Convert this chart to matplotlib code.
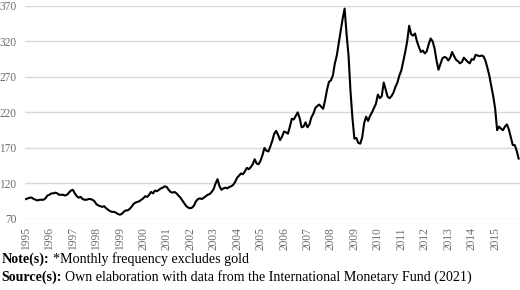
import numpy as np
import matplotlib.pyplot as plt

# ── Data: monthly commodity price index, Jan 1995 – Jan 2016 ──────────────────
y1995 = [98, 99, 100, 100, 98, 97, 96, 97, 97, 97, 99, 103]
y1996 = [104, 106, 106, 107, 106, 104, 104, 104, 103, 104, 107, 110]
y1997 = [111, 106, 102, 100, 101, 98, 97, 97, 98, 98, 97, 95]
y1998 = [91, 89, 88, 87, 88, 85, 83, 81, 80, 80, 79, 77]
y1999 = [76, 77, 80, 82, 82, 84, 87, 91, 93, 94, 95, 97]
y2000 = [99, 102, 101, 104, 108, 106, 110, 109, 111, 113, 114, 116]
y2001 = [115, 111, 108, 107, 108, 106, 103, 100, 96, 92, 88, 86]
y2002 = [85, 86, 89, 95, 98, 99, 98, 100, 102, 104, 105, 108]
y2003 = [112, 120, 126, 116, 111, 113, 114, 113, 115, 116, 118, 122]
y2004 = [128, 131, 134, 133, 137, 142, 140, 143, 147, 154, 148, 147]
y2005 = [152, 160, 170, 166, 165, 172, 180, 190, 194, 188, 181, 186]
y2006 = [193, 192, 190, 200, 211, 210, 215, 220, 212, 199, 200, 206]
y2007 = [199, 203, 213, 218, 226, 229, 231, 228, 225, 237, 252, 263]
y2008 = [265, 272, 289, 300, 318, 335, 352, 366, 330, 300, 250, 212]
y2009 = [183, 184, 177, 176, 185, 205, 214, 208, 215, 220, 226, 232]
y2010 = [245, 240, 243, 262, 252, 242, 240, 243, 248, 256, 262, 272]
y2011 = [279, 292, 305, 320, 342, 330, 328, 331, 320, 312, 305, 307]
y2012 = [303, 306, 316, 324, 320, 310, 293, 280, 288, 296, 298, 297]
y2013 = [293, 297, 305, 299, 294, 292, 289, 291, 297, 294, 291, 289]
y2014 = [295, 294, 301, 300, 299, 300, 299, 293, 283, 272, 257, 243]
y2015 = [225, 195, 200, 197, 195, 200, 203, 196, 185, 174, 174, 166]
y2016 = [155]

index_values = (y1995 + y1996 + y1997 + y1998 + y1999 + y2000 + y2001 + y2002
                + y2003 + y2004 + y2005 + y2006 + y2007 + y2008 + y2009 + y2010
                + y2011 + y2012 + y2013 + y2014 + y2015 + y2016)
year_labels = [str(y) for y in range(1995, 2016)]
y_ticks = [70, 120, 170, 220, 270, 320, 370]

note_label = "Note(s):"
note_text = "*Monthly frequency excludes gold"
source_label = "Source(s):"
source_text = "Own elaboration with data from the International Monetary Fund (2021)"

# ── Figure ────────────────────────────────────────────────────────────────────
plt.rcParams["font.family"] = ["Liberation Serif", "DejaVu Serif"]

fig = plt.figure(figsize=(5.2, 2.9), dpi=100)
ax = fig.add_axes([0.048, 0.245, 0.952, 0.735])

months = np.arange(len(index_values))
ax.plot(months, index_values, color="black", linewidth=1.5, solid_joinstyle="round")

ax.set_ylim(70, 370)
ax.set_yticks(y_ticks)
ax.set_xlim(-0.5, len(index_values) - 0.3)
ax.set_xticks(np.arange(len(year_labels)) * 12)
ax.set_xticklabels(year_labels, rotation=90)

ax.grid(True, axis="y", color="#d9d9d9", linewidth=1.0)
ax.set_axisbelow(True)
for side in ["top", "right", "left", "bottom"]:
    ax.spines[side].set_visible(False)
ax.tick_params(axis="both", length=0, labelsize=8.3, colors="#6e6e6e")
ax.tick_params(axis="y", pad=6)
ax.tick_params(axis="x", pad=6)

# ── Notes: bold label followed by regular text ────────────────────────────────
renderer = fig.canvas.get_renderer()
for label, body, ypos in [(note_label, note_text, 0.092),
                          (source_label, source_text, 0.031)]:
    t = fig.text(0.003, ypos, label, fontsize=10.1, fontweight="bold", va="baseline")
    bb = t.get_window_extent(renderer=renderer)
    x_next = (bb.x1 + 3.5) / fig.bbox.width
    fig.text(x_next, ypos, body, fontsize=10.1, va="baseline")

fig.savefig("out.png", dpi=100)
